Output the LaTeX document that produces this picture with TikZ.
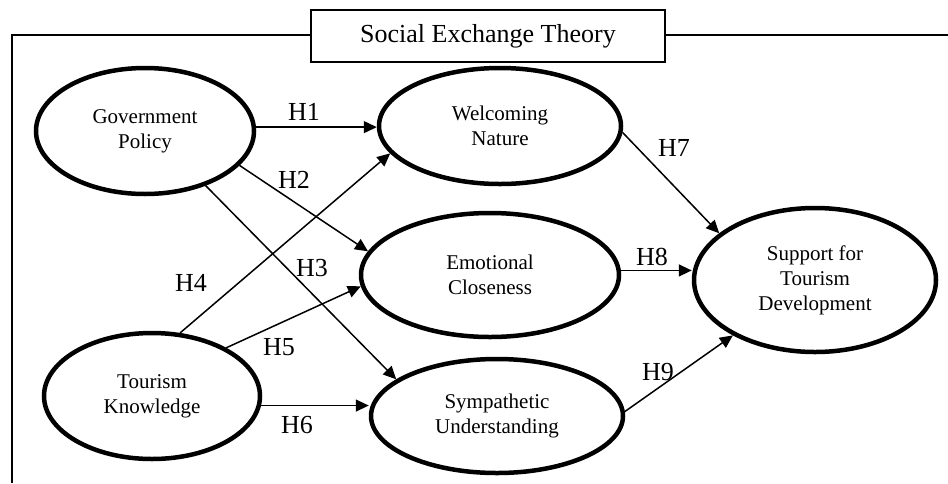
\documentclass[tikz,border=0pt]{standalone}
\usepackage{fontspec}
\setmainfont{Liberation Serif}
\usetikzlibrary{shapes.geometric,arrows.meta,calc}
\begin{document}
\begin{tikzpicture}[x=1pt,y=-1pt,
  construct/.style={ellipse, draw, line width=4.5pt, inner sep=0pt, align=center,
    font=\fontsize{21}{25}\selectfont},
  hyp/.style={line width=1.5pt, -{Triangle[length=13pt,width=12pt]}},
  hlabel/.style={font=\fontsize{26}{30}\selectfont, inner sep=0pt},
  frameline/.style={line width=1.5pt}
]
\useasboundingbox (0,0) rectangle (948,483);
% frame
\draw[frameline] (948,35) -- (12,35) -- (12,483);
\node[draw, fill=white, frameline, minimum width=354pt, minimum height=52pt,
  inner sep=0pt, font=\fontsize{26}{30}\selectfont] (set) at (488,36) {Social Exchange Theory};
% constructs
\node[construct, minimum width=218pt, minimum height=126pt] (gov) at (145,131) {Government\\Policy};
\node[construct, minimum width=242pt, minimum height=116pt] (wel) at (500,126) {Welcoming\\Nature};
\node[construct, minimum width=258pt, minimum height=124pt] (emo) at (490,275) {Emotional\\Closeness};
\node[construct, minimum width=216pt, minimum height=126pt] (tour) at (152,396) {Tourism\\Knowledge};
\node[construct, minimum width=252pt, minimum height=114pt] (sym) at (497,416) {Sympathetic\\Understanding};
\node[construct, minimum width=242pt, minimum height=144pt] (sup) at (815,280) {Support for\\Tourism\\Development};
% hypotheses
\draw[hyp] (gov.2) -- (gov.2 -| wel.west);
\draw[hyp] (gov.-20) -- (emo.169);
\draw[hyp] (gov.-42) -- (sym.160);
\draw[hyp] (tour.66) -- (wel.-166);
\draw[hyp] (tour.33) -- (emo.185);
\draw[hyp] (tour.-5) -- (tour.-5 -| sym.west);
\draw[hyp] (wel.-3) -- (sup.154);
\draw[hyp] (emo.2) -- (emo.2 -| sup.west);
\draw[hyp] (sym.2) -- (sup.-146);
% labels
\node[hlabel] (h1) at (304,112) {H1};
\node[hlabel] (h2) at (294,180) {H2};
\node[hlabel] (h3) at (312,268) {H3};
\node[hlabel] (h4) at (191,283) {H4};
\node[hlabel] (h5) at (279,347) {H5};
\node[hlabel] (h6) at (297,425) {H6};
\node[hlabel] (h7) at (674,148) {H7};
\node[hlabel] (h8) at (652,257) {H8};
\node[hlabel] (h9) at (658,372) {H9};
\end{tikzpicture}
\end{document}
